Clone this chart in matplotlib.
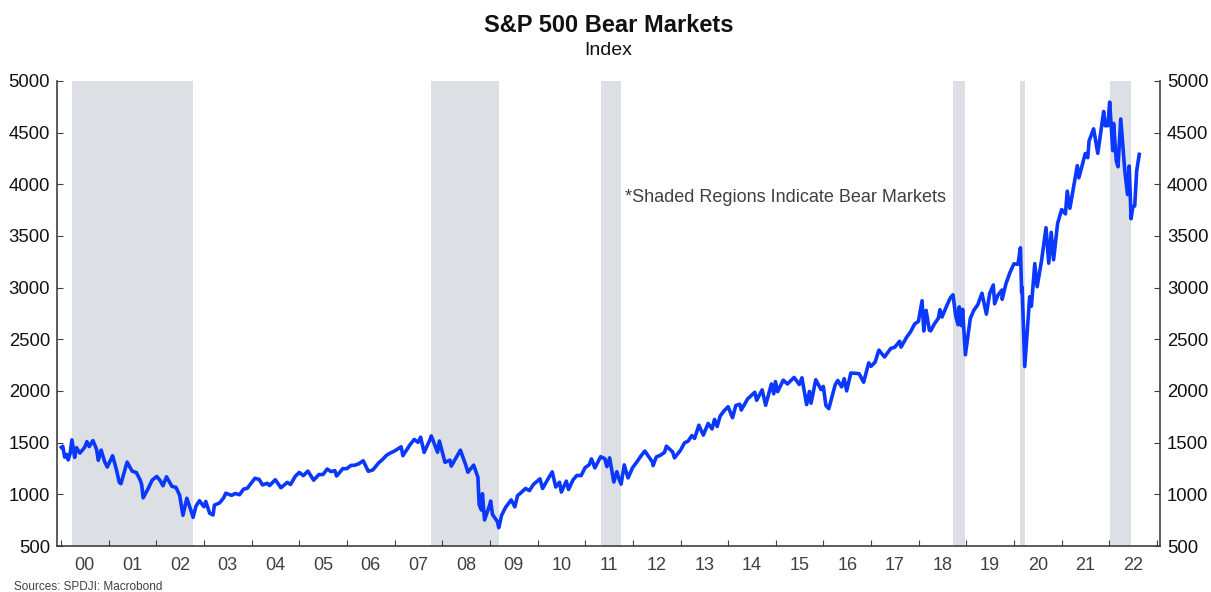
import pandas as pd
import matplotlib.pyplot as plt
import matplotlib.dates as mdates

plt.rcParams['font.family'] = ['Liberation Sans', 'DejaVu Sans']

dates = [
    '2000-01-03', '2000-01-14', '2000-01-28', '2000-02-11', '2000-02-25', '2000-03-10', '2000-03-24',
    '2000-04-14', '2000-04-28', '2000-05-24', '2000-06-30', '2000-07-17', '2000-08-04', '2000-09-01',
    '2000-09-29', '2000-10-12', '2000-11-03', '2000-11-30', '2000-12-20',
    '2001-01-30', '2001-02-28', '2001-03-22', '2001-04-04', '2001-05-21', '2001-06-29', '2001-07-31',
    '2001-08-31', '2001-09-10', '2001-09-21', '2001-10-31', '2001-11-30',
    '2002-01-04', '2002-01-31', '2002-02-20', '2002-03-19', '2002-04-30', '2002-05-31', '2002-06-28',
    '2002-07-23', '2002-08-22', '2002-09-30', '2002-10-09', '2002-10-31', '2002-11-27', '2002-12-31',
    '2003-01-14', '2003-02-13', '2003-03-11', '2003-03-21', '2003-04-30', '2003-05-30', '2003-06-17',
    '2003-07-31', '2003-08-29', '2003-09-30', '2003-10-31', '2003-11-28', '2003-12-31',
    '2004-01-26', '2004-02-27', '2004-03-24', '2004-04-30', '2004-05-17', '2004-06-30', '2004-08-12',
    '2004-09-30', '2004-10-25', '2004-11-30', '2004-12-31',
    '2005-01-31', '2005-03-07', '2005-04-20', '2005-05-31', '2005-06-30', '2005-08-02', '2005-08-31',
    '2005-09-30', '2005-10-13', '2005-11-30', '2005-12-30',
    '2006-01-31', '2006-02-28', '2006-03-31', '2006-05-05', '2006-06-13', '2006-07-18', '2006-08-31',
    '2006-09-29', '2006-10-31', '2006-11-30', '2006-12-29',
    '2007-02-20', '2007-03-05', '2007-04-30', '2007-05-31', '2007-06-29', '2007-07-19', '2007-08-15',
    '2007-09-28', '2007-10-09', '2007-11-26', '2007-12-10',
    '2008-01-22', '2008-02-29', '2008-03-10', '2008-04-30', '2008-05-19', '2008-06-30', '2008-07-15',
    '2008-08-29', '2008-09-30', '2008-10-10', '2008-10-27', '2008-11-04', '2008-11-20', '2008-12-31',
    '2009-01-06', '2009-01-20', '2009-02-27', '2009-03-09', '2009-03-31', '2009-04-30', '2009-06-12',
    '2009-07-10', '2009-07-31', '2009-08-31', '2009-09-30', '2009-10-30', '2009-11-30',
    '2010-01-19', '2010-02-08', '2010-03-31', '2010-04-23', '2010-05-20', '2010-06-18', '2010-07-02',
    '2010-08-09', '2010-08-26', '2010-09-30', '2010-10-29', '2010-11-30', '2010-12-31',
    '2011-01-31', '2011-02-18', '2011-03-16', '2011-04-29', '2011-05-31', '2011-06-16', '2011-07-07',
    '2011-08-08', '2011-08-31', '2011-09-22', '2011-10-03', '2011-10-27', '2011-11-25', '2011-12-30',
    '2012-01-31', '2012-02-29', '2012-04-02', '2012-05-31', '2012-06-04', '2012-06-29', '2012-07-31',
    '2012-08-31', '2012-09-14', '2012-10-31', '2012-11-15', '2012-12-31',
    '2013-01-31', '2013-02-28', '2013-03-28', '2013-04-18', '2013-05-21', '2013-06-24', '2013-07-31',
    '2013-08-30', '2013-09-18', '2013-10-08', '2013-10-31', '2013-11-29', '2013-12-31',
    '2014-02-03', '2014-02-28', '2014-03-31', '2014-04-11', '2014-05-30', '2014-06-30', '2014-07-24',
    '2014-08-07', '2014-09-18', '2014-10-15', '2014-11-28', '2014-12-16', '2014-12-29',
    '2015-01-15', '2015-02-27', '2015-03-31', '2015-05-21', '2015-06-30', '2015-07-20', '2015-08-25',
    '2015-09-16', '2015-09-28', '2015-11-03', '2015-12-14', '2015-12-31',
    '2016-01-20', '2016-02-11', '2016-03-31', '2016-04-20', '2016-05-19', '2016-06-08', '2016-06-27',
    '2016-07-29', '2016-08-31', '2016-09-30', '2016-11-04', '2016-12-13', '2016-12-30',
    '2017-01-31', '2017-03-01', '2017-04-13', '2017-05-31', '2017-06-30', '2017-08-07', '2017-08-18',
    '2017-09-29', '2017-10-31', '2017-11-30', '2017-12-29',
    '2018-01-26', '2018-02-08', '2018-02-26', '2018-03-23', '2018-04-02', '2018-04-30', '2018-05-31',
    '2018-06-12', '2018-06-28', '2018-07-31', '2018-08-31', '2018-09-20', '2018-10-11', '2018-10-29',
    '2018-11-07', '2018-11-23', '2018-12-03', '2018-12-24',
    '2019-01-31', '2019-02-28', '2019-03-29', '2019-04-30', '2019-06-03', '2019-06-28', '2019-07-26',
    '2019-08-05', '2019-08-30', '2019-09-30', '2019-10-02', '2019-10-31', '2019-11-29', '2019-12-31',
    '2020-01-31', '2020-02-19', '2020-02-28', '2020-03-03', '2020-03-23', '2020-04-30', '2020-05-13',
    '2020-06-08', '2020-06-26', '2020-07-31', '2020-09-02', '2020-09-23', '2020-10-12', '2020-10-30',
    '2020-11-30', '2020-12-31',
    '2021-01-29', '2021-02-12', '2021-03-04', '2021-04-30', '2021-05-12', '2021-06-30', '2021-07-19',
    '2021-07-29', '2021-09-02', '2021-10-04', '2021-11-18', '2021-11-30', '2021-12-20',
    '2022-01-03', '2022-01-27', '2022-02-02', '2022-02-23', '2022-03-08', '2022-03-29', '2022-04-29',
    '2022-05-20', '2022-06-02', '2022-06-16', '2022-06-30', '2022-07-14', '2022-07-29', '2022-08-18',
]
values = [
    1455, 1465, 1360, 1387, 1333, 1395, 1527,
    1357, 1452, 1399, 1455, 1510, 1462, 1520,
    1436, 1329, 1428, 1315, 1264,
    1373, 1240, 1117, 1103, 1312, 1224, 1211,
    1134, 1092, 966, 1060, 1139,
    1173, 1130, 1083, 1170, 1077, 1067, 990,
    797, 962, 815, 777, 886, 938, 880,
    931, 817, 800, 895, 917, 964, 1011,
    990, 1008, 996, 1051, 1058, 1112,
    1155, 1145, 1091, 1107, 1085, 1141, 1064,
    1115, 1095, 1174, 1212,
    1181, 1225, 1137, 1192, 1191, 1245, 1220,
    1229, 1177, 1249, 1248,
    1280, 1281, 1295, 1325, 1223, 1236, 1304,
    1336, 1378, 1401, 1418,
    1460, 1374, 1482, 1531, 1503, 1553, 1406,
    1527, 1565, 1407, 1516,
    1310, 1331, 1273, 1386, 1427, 1280, 1214,
    1283, 1166, 899, 848, 1006, 752, 903,
    935, 805, 735, 677, 798, 873, 946,
    879, 987, 1021, 1057, 1036, 1096,
    1150, 1056, 1169, 1217, 1071, 1117, 1022,
    1128, 1047, 1141, 1183, 1181, 1258,
    1286, 1343, 1256, 1364, 1345, 1268, 1353,
    1119, 1219, 1130, 1099, 1285, 1159, 1258,
    1312, 1366, 1419, 1310, 1278, 1362, 1379,
    1407, 1466, 1412, 1353, 1426,
    1498, 1515, 1569, 1541, 1669, 1573, 1686,
    1633, 1725, 1656, 1757, 1806, 1848,
    1741, 1859, 1872, 1816, 1924, 1960, 1988,
    1910, 2011, 1862, 2068, 1973, 2091,
    1993, 2105, 2068, 2131, 2063, 2128, 1868,
    1996, 1882, 2109, 2013, 2044,
    1859, 1829, 2060, 2102, 2040, 2119, 2001,
    2174, 2171, 2168, 2085, 2272, 2239,
    2279, 2396, 2329, 2412, 2423, 2481, 2425,
    2519, 2575, 2648, 2674,
    2873, 2581, 2780, 2588, 2582, 2648, 2705,
    2787, 2716, 2816, 2902, 2931, 2728, 2641,
    2814, 2633, 2790, 2351,
    2704, 2784, 2834, 2946, 2744, 2942, 3026,
    2844, 2926, 2977, 2887, 3038, 3141, 3231,
    3226, 3386, 2954, 3003, 2237, 2912, 2820,
    3232, 3009, 3271, 3580, 3237, 3535, 3270,
    3622, 3756,
    3714, 3934, 3768, 4181, 4063, 4298, 4258,
    4419, 4537, 4300, 4705, 4567, 4568,
    4796, 4326, 4589, 4225, 4170, 4632, 4132,
    3901, 4177, 3667, 3785, 3790, 4130, 4290,
]

# bear market periods (peak to trough)
bear_start = ['2000-03-24', '2007-10-09', '2011-04-29', '2018-09-20', '2020-02-19', '2022-01-03']
bear_end = ['2002-10-09', '2009-03-09', '2011-10-03', '2018-12-24', '2020-03-23', '2022-06-16']

df = pd.DataFrame({'date': pd.to_datetime(dates), 'value': values})

fig = plt.figure(figsize=(12.11, 5.92), dpi=100)
ax = fig.add_axes([0.0471, 0.0777, 0.9108, 0.7855])

for s, e in zip(bear_start, bear_end):
    ax.axvspan(pd.Timestamp(s), pd.Timestamp(e), color='#dcdfe4', lw=0, zorder=1)

ax.plot(df['date'], df['value'], color='#0a38ff', lw=2.6, zorder=3)

ax.set_xlim(pd.Timestamp('1999-12-01'), pd.Timestamp('2023-01-24'))
ax.set_ylim(500, 5000)
ax.set_yticks(range(500, 5001, 500))

# year boundaries get tick marks, labels sit mid-year
ax.xaxis.set_major_locator(mdates.YearLocator())
ax.xaxis.set_major_formatter(plt.NullFormatter())
ax.xaxis.set_minor_locator(mdates.MonthLocator(bymonth=7, bymonthday=1))
ax.xaxis.set_minor_formatter(mdates.DateFormatter('%y'))
ax.tick_params(axis='x', which='minor', length=0, labelsize=13, labelcolor='#404040', pad=8)
ax.tick_params(axis='x', which='major', direction='in', length=4, color='#404040')
ax.tick_params(axis='y', direction='in', length=4, labelsize=13.3, color='#404040',
               labelcolor='#111111', right=True, labelright=True, pad=5)

for side in ['left', 'right', 'bottom']:
    ax.spines[side].set_color('#404040')
    ax.spines[side].set_linewidth(1.2)
ax.spines['top'].set_visible(False)

ax.text(0.515, 0.749, '*Shaded Regions Indicate Bear Markets', transform=ax.transAxes,
        fontsize=13, color='#404040', va='center', ha='left')

fig.text(0.5025, 0.957, 'S&P 500 Bear Markets', ha='center', va='center',
         fontsize=17, fontweight='bold', color='#111111')
fig.text(0.5025, 0.915, 'Index', ha='center', va='center', fontsize=14, color='#111111')
fig.text(0.0116, 0.0085, 'Sources: SPDJI: Macrobond', ha='left', va='center',
         fontsize=8.5, color='#404040')

fig.savefig('out.png', dpi=100)
